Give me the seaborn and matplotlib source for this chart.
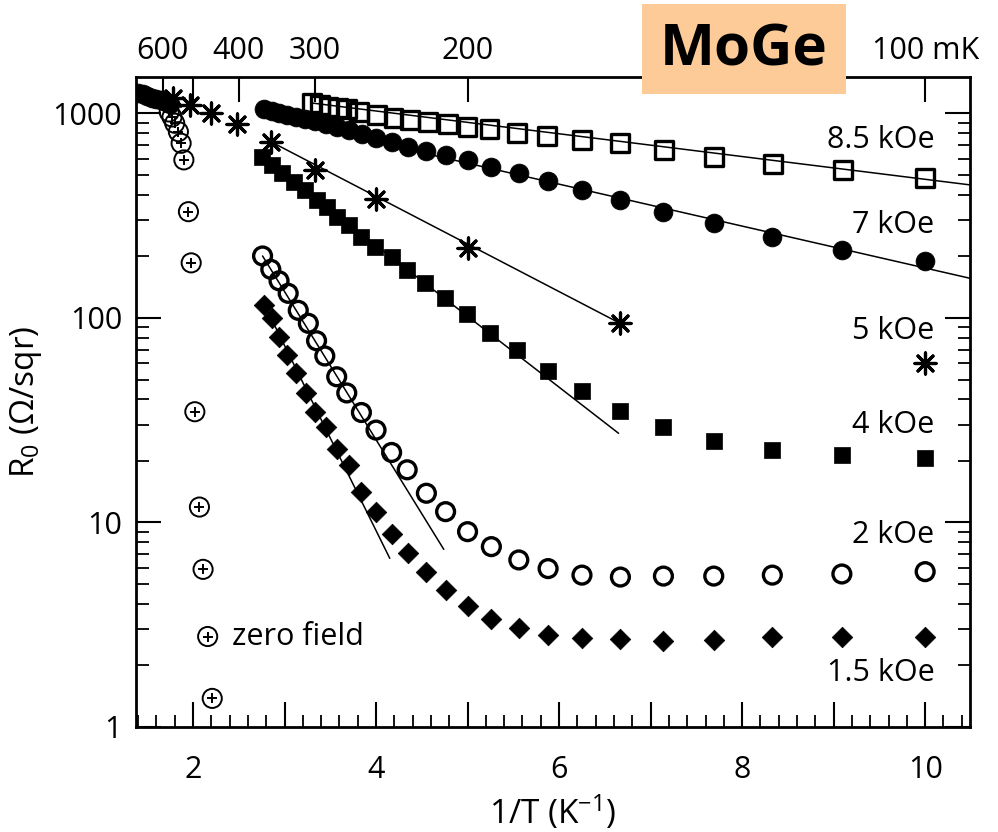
import numpy as np
import pandas as pd
import matplotlib
matplotlib.use("Agg")
import matplotlib.pyplot as plt
from matplotlib.patches import Rectangle
from matplotlib.ticker import FixedLocator, MultipleLocator, LogLocator, NullFormatter, FuncFormatter
import seaborn as sns

# ---- data: sheet resistance R0 vs inverse temperature for several fields ----
h85_x = [3.30, 3.39, 3.48, 3.58, 3.68, 3.81, 4.01, 4.19, 4.37, 4.57, 4.79, 5.00, 5.24, 5.54,
         5.87, 6.25, 6.67, 7.15, 7.69, 8.34, 9.10, 10.0]
h85_y = [1122, 1101, 1080, 1067, 1051, 1020, 984, 953, 929, 905, 885, 861, 837, 805,
         779, 742, 715, 663, 610, 566, 529, 482]

h7_x = [1.40, 1.45, 1.50, 1.55, 1.60, 1.65, 1.70, 1.75,
        2.78, 2.86, 2.94, 3.03, 3.12, 3.22, 3.33, 3.45, 3.57, 3.70, 3.85, 4.00,
        4.17, 4.35, 4.55, 4.76, 5.00, 5.26, 5.56, 5.88, 6.25, 6.67, 7.14, 7.69, 8.33, 9.09, 10.0]
h7_y = [1259, 1239, 1218, 1197, 1178, 1158, 1138, 1113,
        1052, 1029, 1005, 984, 961, 940, 914, 889, 859, 830, 794, 759,
        728, 688, 658, 627, 593, 550, 510, 465, 423, 378, 331, 293, 248, 215, 189]

h5_x = [1.78, 1.97, 2.20, 2.48, 2.85, 3.33, 4.00, 5.00, 6.67, 10.0]
h5_y = [1186, 1101, 1003, 886, 728, 532, 380, 219, 94, 60]

h4_x = [2.75, 2.86, 2.97, 3.10, 3.22, 3.35, 3.46, 3.57, 3.70, 3.84, 3.99, 4.17, 4.34, 4.54,
        4.75, 4.99, 5.25, 5.54, 5.88, 6.25, 6.67, 7.14, 7.69, 8.33, 9.09, 10.0]
h4_y = [615, 560, 510, 464, 423, 378, 350, 313, 285, 250, 223, 199, 172, 148,
        125, 105, 84.7, 69.7, 55.2, 44.1, 35.2, 29.2, 25.1, 22.6, 21.4, 20.6]

h2_x = [2.76, 2.85, 2.94, 3.04, 3.15, 3.26, 3.35, 3.44, 3.57, 3.68, 3.84, 4.00, 4.17, 4.34,
        4.55, 4.76, 5.00, 5.26, 5.56, 5.88, 6.25, 6.67, 7.14, 7.69, 8.33, 9.09, 10.0]
h2_y = [201, 173, 152, 132, 109, 94.2, 77.4, 65.2, 51.6, 43.0, 34.5, 28.3, 22.0, 18.1,
        13.9, 11.3, 9.02, 7.62, 6.56, 5.95, 5.53, 5.41, 5.47, 5.47, 5.53, 5.60, 5.75]

h15_x = [2.78, 2.86, 2.94, 3.03, 3.125, 3.23, 3.33, 3.45, 3.57, 3.70, 3.84, 4.00, 4.17, 4.35,
         4.55, 4.76, 5.00, 5.26, 5.56, 5.88, 6.25, 6.67, 7.14, 7.69, 8.33, 9.09, 10.0]
h15_y = [116, 99.7, 81.1, 65.9, 53.7, 42.8, 34.8, 29.2, 22.9, 19.1, 14.1, 11.3, 8.78, 7.07,
         5.75, 4.68, 3.89, 3.37, 3.05, 2.81, 2.71, 2.68, 2.64, 2.66, 2.75, 2.77, 2.77]

h0_x = [1.74, 1.77, 1.80, 1.84, 1.87, 1.90, 1.95, 1.98, 2.02, 2.07, 2.11, 2.16, 2.21]
h0_y = [1017, 961, 896, 815, 715, 593, 331, 186, 34.8, 11.9, 5.90, 2.77, 1.38]

# activated-transport fits (end points of straight lines on the log scale)
fit85_x, fit85_y = [3.30, 10.5], [1125, 447]
fit7_x, fit7_y = [2.78, 10.5], [965, 156]
fit5_x, fit5_y = [2.85, 6.67], [728, 94]
fit4_x, fit4_y = [2.75, 6.65], [615, 27.3]
fit2_x, fit2_y = [2.76, 4.74], [201, 7.39]
fit15_x, fit15_y = [2.78, 4.15], [116, 6.68]

field_labels = ["8.5 kOe", "7 kOe", "5 kOe", "4 kOe", "2 kOe", "1.5 kOe"]
field_label_y = [742, 285, 86.4, 30.0, 8.69, 1.84]

bottom_ticks = [2, 3, 4, 5, 6, 7, 8, 9, 10]
top_mK = [600, 500, 400, 300, 200, 100]
top_labels = ["600", "", "400", "300", "200", "100 mK"]

# ---- style ----
sns.set_theme(style="ticks")
plt.rcParams["font.family"] = ["Open Sans", "DejaVu Sans"]
for k in ["text.color", "axes.labelcolor", "xtick.color", "ytick.color", "axes.edgecolor"]:
    plt.rcParams[k] = "black"
plt.rcParams["mathtext.fontset"] = "custom"
plt.rcParams["mathtext.rm"] = "Open Sans"
plt.rcParams["mathtext.it"] = "Open Sans"

FS = 22

fig = plt.figure(figsize=(9.98, 8.32), dpi=100)
ax = fig.add_axes([136 / 998, 1 - 727 / 832, (970 - 136) / 998, (727 - 77) / 832])
ax.set_yscale("log")
ax.set_xlim(1.377, 10.49)
ax.set_ylim(1, 1508)


def scatter(x, y, marker, s, lw, open_face=False, z=3):
    sns.scatterplot(x=x, y=y, marker=marker, s=s, color="black", edgecolor="black",
                    linewidth=lw, ax=ax, zorder=z, legend=False)
    coll = ax.collections[-1]
    if open_face:
        coll.set_facecolor("none")
    coll.set_edgecolor("black")
    coll.set_linewidth(lw)


# fitted lines
for fx, fy in [(fit85_x, fit85_y), (fit7_x, fit7_y), (fit5_x, fit5_y),
               (fit4_x, fit4_y), (fit2_x, fit2_y), (fit15_x, fit15_y)]:
    sns.lineplot(x=fx, y=fy, color="black", linewidth=1.1, ax=ax, zorder=2,
                 legend=False, estimator=None, sort=False)

scatter(h85_x, h85_y, "s", 165, 2.4, open_face=True)
scatter(h7_x, h7_y, "o", 185, 0.5)
scatter(h5_x, h5_y, (8, 2, 0), 230, 2.3)
scatter(h4_x, h4_y, "s", 140, 0.5)
scatter(h2_x, h2_y, "o", 165, 2.4, open_face=True)
scatter(h15_x, h15_y, "D", 110, 0.5)
scatter(h0_x, h0_y, "o", 190, 1.4, open_face=True)
scatter(h0_x, h0_y, "+", 55, 1.4)

# field annotations at the right
for lab, ly in zip(field_labels, field_label_y):
    ax.text(10.1, ly, lab, ha="right", va="center", fontsize=FS)
ax.text(2.43, 2.77, "zero field", ha="left", va="center", fontsize=FS)

# axes, ticks
ax.xaxis.set_major_locator(FixedLocator(bottom_ticks))
ax.xaxis.set_major_formatter(FuncFormatter(lambda v, p: f"{int(round(v))}" if int(round(v)) % 2 == 0 else ""))
ax.xaxis.set_minor_locator(MultipleLocator(0.2))
ax.yaxis.set_major_locator(LogLocator(base=10, numticks=10))
ax.yaxis.set_major_formatter(FuncFormatter(lambda v, p: f"{int(round(v))}"))
ax.yaxis.set_minor_locator(LogLocator(base=10, subs=np.arange(2, 10), numticks=20))
ax.yaxis.set_minor_formatter(NullFormatter())

ax.tick_params(axis="both", which="major", direction="in", length=18, width=1.5,
               labelsize=FS, top=False, right=True, bottom=True, left=True)
ax.tick_params(axis="both", which="minor", direction="in", length=9, width=1.3,
               top=False, right=True, bottom=True, left=True)
ax.tick_params(axis="x", which="major", pad=20)
ax.tick_params(axis="y", which="major", pad=10)
for sp in ax.spines.values():
    sp.set_linewidth(2.0)
    sp.set_visible(True)

ax.set_xlabel("1/T (K$^{-1}$)", fontsize=FS + 2, labelpad=6)
ax.set_ylabel("R$_0$ ($\\Omega$/sqr)", fontsize=FS + 2, labelpad=6)

# temperature scale along the top
ax2 = ax.twiny()
ax2.set_xlim(ax.get_xlim())
ax2.set_xticks(1000.0 / np.array(top_mK, dtype=float))
ax2.set_xticklabels(top_labels)
ax2.xaxis.set_minor_locator(FixedLocator([]))
ax2.tick_params(axis="x", which="major", direction="in", length=18, width=1.5,
                labelsize=FS, pad=8)
for sp in ax2.spines.values():
    sp.set_visible(False)

# sample name tag
fig.patches.append(Rectangle((642 / 998, 1 - 94 / 832), 204 / 998, 90 / 832,
                             transform=fig.transFigure, facecolor="#FDCB98",
                             edgecolor="none", zorder=10))
fig.text(744 / 998, 1 - 50 / 832, "MoGe", ha="center", va="center",
         fontsize=42, fontweight="bold", zorder=11)

fig.savefig("out.png", dpi=100)
